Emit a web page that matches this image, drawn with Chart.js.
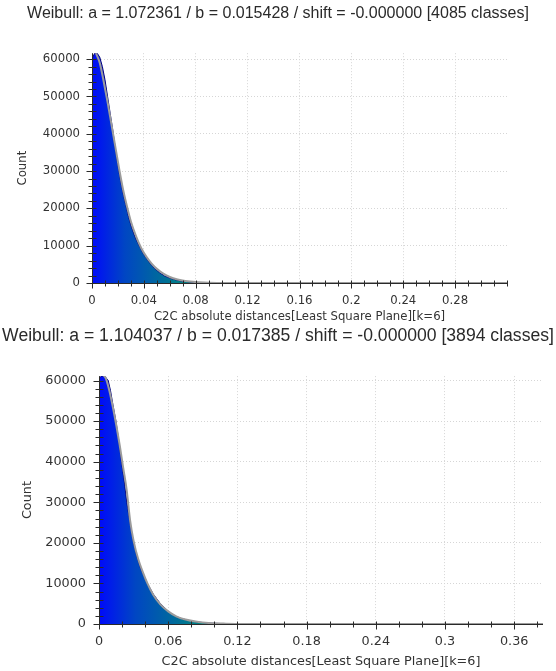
<!DOCTYPE html>
<html>
<head>
<meta charset="utf-8">
<script src="https://cdn.jsdelivr.net/npm/chart.js@4.4.0/dist/chart.umd.min.js"></script>
<style>
body { margin: 0; background: #fff; width: 556px; height: 671px; overflow: hidden; position: relative; }
.box { position: absolute; left: 0; width: 556px; }
</style>
</head>
<body>
<div class="box" style="top:0;height:326px"><canvas id="c1"></canvas></div>
<div class="box" style="top:326px;height:345px"><canvas id="c2"></canvas></div>
<script>
// ---- chart 1 (top) ----
var title1 = 'Weibull: a = 1.072361 / b = 0.015428 / shift = -0.000000 [4085 classes]';
var xTicks1 = [0, 0.04, 0.08, 0.12, 0.16, 0.2, 0.24, 0.28];
var yTicks1 = [0, 10000, 20000, 30000, 40000, 50000, 60000];
var histDist1 = [0, 0.002, 0.004, 0.006, 0.008, 0.010, 0.012, 0.014, 0.016, 0.018, 0.020, 0.022, 0.024, 0.026, 0.028, 0.030, 0.033, 0.036, 0.040, 0.044, 0.048, 0.052, 0.056, 0.060, 0.065, 0.070, 0.080, 0.090, 0.100, 0.120, 0.320];
var histCount1 = [60000, 61600, 61600, 60500, 58000, 54500, 50000, 45500, 41000, 36000, 31500, 27500, 24000, 21000, 18000, 15500, 12500, 10200, 7600, 5600, 4000, 2800, 1900, 1300, 800, 450, 150, 60, 20, 0, 0];
var fitDist1 = [0.003, 0.006, 0.009, 0.012, 0.015, 0.018, 0.021, 0.024, 0.027, 0.030, 0.034, 0.038, 0.042, 0.046, 0.050, 0.055, 0.060, 0.066, 0.072, 0.080, 0.090, 0.100, 0.120, 0.320];
var fitCount1 = [61600, 59000, 54000, 48500, 42500, 36500, 30500, 25000, 20500, 16500, 12500, 9300, 7000, 5200, 3800, 2500, 1600, 950, 550, 250, 90, 30, 5, 0];

// ---- chart 2 (bottom) ----
var title2 = 'Weibull: a = 1.104037 / b = 0.017385 / shift = -0.000000 [3894 classes]';
var xTicks2 = [0, 0.06, 0.12, 0.18, 0.24, 0.3, 0.36];
var yTicks2 = [0, 10000, 20000, 30000, 40000, 50000, 60000];
var histDist2 = [0, 0.002, 0.005, 0.008, 0.010, 0.012, 0.0147, 0.017, 0.0195, 0.022, 0.0241, 0.027, 0.030, 0.033, 0.036, 0.042, 0.047, 0.053, 0.060, 0.066, 0.070, 0.076, 0.085, 0.095, 0.110, 0.130, 0.160, 0.385];
var histCount2 = [60500, 61100, 61100, 60000, 57500, 54200, 50000, 45500, 40000, 35000, 30000, 24800, 20000, 16500, 13800, 10000, 7400, 5100, 3100, 2000, 1500, 1000, 500, 220, 80, 20, 0, 0];
var fitDist2 = [0.003, 0.006, 0.009, 0.012, 0.015, 0.018, 0.021, 0.024, 0.027, 0.030, 0.034, 0.038, 0.042, 0.047, 0.053, 0.060, 0.067, 0.075, 0.085, 0.095, 0.110, 0.130, 0.160, 0.385];
var fitCount2 = [61500, 60500, 57500, 53500, 49000, 44000, 38500, 33000, 25500, 20500, 16000, 12800, 10000, 7200, 4900, 3100, 1900, 1100, 550, 250, 90, 20, 3, 0];

var xTitle = 'C2C absolute distances[Least Square Plane][k=6]';

function pts(xs, ys) {
    return xs.map(function (x, i) { return {x: x, y: ys[i]}; });
}

// axis lines + major/minor tick marks, drawn with the scales
var axisTicks = {
    id: 'axisTicks',
    afterDatasetsDraw: function (chart) {
        var ctx = chart.ctx, a = chart.chartArea;
        var xs = chart.scales.x, ys = chart.scales.y;
        var x0 = Math.round(a.left) + 0.5, y0 = Math.round(a.bottom) + 0.5;
        ctx.save();
        ctx.strokeStyle = '#2a2a2a';
        ctx.lineWidth = 1;
        ctx.beginPath();
        ctx.moveTo(x0, a.top);
        ctx.lineTo(x0, y0);
        ctx.lineTo(a.right, y0);
        xs.ticks.forEach(function (t) {
            var px = Math.round(xs.getPixelForValue(t.value)) + 0.5;
            ctx.moveTo(px, y0 - 3);
            ctx.lineTo(px, y0 + (t.big ? 5 : 3));
        });
        ys.ticks.forEach(function (t) {
            var py = Math.round(ys.getPixelForValue(t.value)) + 0.5;
            ctx.moveTo(x0 - (t.big ? 6 : 4), py);
            ctx.lineTo(x0 + 4, py);
        });
        ctx.stroke();
        ctx.restore();
    }
};

function makeChart(id, o) {
    var ctx = document.getElementById(id).getContext('2d');
    return new Chart(ctx, {
        type: 'line',
        data: {
            datasets: [{
                data: pts(o.fitDist, o.fitCount),
                borderColor: '#9c9c9c',
                borderWidth: 2,
                pointRadius: 0,
                cubicInterpolationMode: 'monotone',
                fill: false,
                order: 0
            }, {
                data: pts(o.histDist, o.histCount),
                borderColor: '#00007a',
                borderWidth: 1,
                pointRadius: 0,
                fill: 'origin',
                order: 1,
                backgroundColor: function (c) {
                    var ch = c.chart;
                    if (!ch.chartArea) return 'rgb(0,0,255)';
                    var sx = ch.scales.x;
                    var g = ch.ctx.createLinearGradient(sx.getPixelForValue(0), 0, sx.getPixelForValue(o.gradEnd), 0);
                    g.addColorStop(0, 'rgb(0,10,250)');
                    g.addColorStop(0.3, 'rgb(0,70,195)');
                    g.addColorStop(1, 'rgb(0,150,110)');
                    return g;
                }
            }]
        },
        options: {
            responsive: true,
            maintainAspectRatio: false,
            animation: false,
            layout: { padding: 0 },
            plugins: {
                legend: { display: false },
                tooltip: { enabled: false },
                title: {
                    display: true,
                    text: o.title,
                    color: '#2a2a2a',
                    font: { family: 'Liberation Sans', size: o.titleSize, weight: 'normal' },
                    padding: { top: o.titleTop, bottom: o.titleBottom }
                }
            },
            scales: {
                x: {
                    type: 'linear',
                    min: 0,
                    max: o.xMax,
                    afterBuildTicks: function (s) {
                        var t = [];
                        for (var i = 0; i * o.xMinor <= o.xMax + 1e-9; i++) {
                            var v = Math.round(i * o.xMinor * 1000) / 1000;
                            var big = o.xTicks.some(function (m) { return Math.abs(m - v) < 1e-9; });
                            t.push({value: v, big: big});
                        }
                        s.ticks = t;
                    },
                    afterFit: function (s) { s.height = o.xHeight; },
                    ticks: {
                        autoSkip: false,
                        maxRotation: 0,
                        padding: o.xPad,
                        color: '#333',
                        font: { family: 'DejaVu Sans', size: o.tickSize },
                        callback: function (v) {
                            var m = o.xTicks.filter(function (k) { return Math.abs(k - v) < 1e-9; });
                            return m.length ? String(m[0]) : '';
                        }
                    },
                    grid: {
                        drawTicks: false,
                        color: function (c) {
                            return c.tick && c.tick.big && c.tick.value > 0 ? '#d6d6d6' : 'rgba(0,0,0,0)';
                        }
                    },
                    border: { display: false, dash: [1, 2] },
                    title: {
                        display: true,
                        text: xTitle,
                        color: '#333',
                        font: { family: 'DejaVu Sans', size: o.tickSize },
                        padding: { top: 0, bottom: 2 }
                    }
                },
                y: {
                    min: 0,
                    max: o.yMax,
                    afterBuildTicks: function (s) {
                        var t = [];
                        for (var v = 0; v <= o.yMax; v += 2000) {
                            t.push({value: v, big: o.yTicks.indexOf(v) >= 0});
                        }
                        s.ticks = t;
                    },
                    afterFit: function (s) { s.width = o.yWidth; },
                    ticks: {
                        autoSkip: false,
                        padding: o.yPad,
                        color: '#333',
                        font: { family: 'DejaVu Sans', size: o.tickSize },
                        callback: function (v) {
                            return o.yTicks.indexOf(v) >= 0 ? String(v) : '';
                        }
                    },
                    grid: {
                        drawTicks: false,
                        color: function (c) {
                            return c.tick && c.tick.big && c.tick.value > 0 ? '#d6d6d6' : 'rgba(0,0,0,0)';
                        }
                    },
                    border: { display: false, dash: [1, 2] },
                    title: {
                        display: true,
                        text: 'Count',
                        color: '#333',
                        font: { family: 'DejaVu Sans', size: o.tickSize },
                        padding: { top: o.yTitlePad, bottom: 0 }
                    }
                },
                // empty right axis, only reserves the blank margin on the right
                r: {
                    position: 'right',
                    display: true,
                    afterFit: function (s) { s.width = o.rightWidth; },
                    grid: { display: false, drawTicks: false },
                    border: { display: false },
                    ticks: { display: false }
                }
            }
        },
        plugins: [axisTicks]
    });
}

makeChart('c1', {
    title: title1, titleSize: 16, titleTop: 4, titleBottom: 30,
    histDist: histDist1, histCount: histCount1, fitDist: fitDist1, fitCount: fitCount1,
    xTicks: xTicks1, yTicks: yTicks1, xMax: 0.32, xMinor: 0.01, yMax: 61600,
    gradEnd: 0.085, yWidth: 92, rightWidth: 49, xHeight: 43,
    xPad: 11, yPad: 12, yTitlePad: 16, tickSize: 11.7
});

makeChart('c2', {
    title: title2, titleSize: 17.6, titleTop: 0, titleBottom: 29,
    histDist: histDist2, histCount: histCount2, fitDist: fitDist2, fitCount: fitCount2,
    xTicks: xTicks2, yTicks: yTicks2, xMax: 0.385, xMinor: 0.02, yMax: 61100,
    gradEnd: 0.105, yWidth: 99, rightWidth: 13, xHeight: 47,
    xPad: 10, yPad: 13, yTitlePad: 20, tickSize: 12.8
});
</script>
</body>
</html>
